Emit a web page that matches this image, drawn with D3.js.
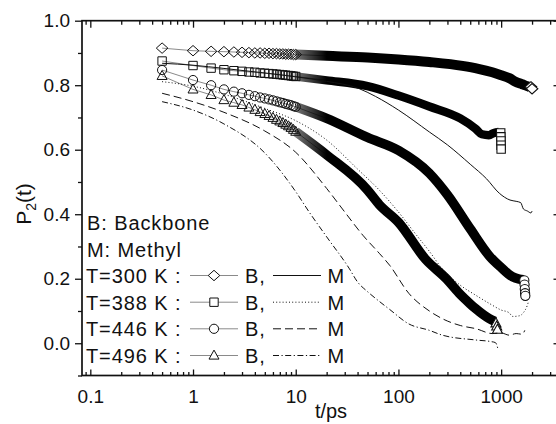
<!DOCTYPE html>
<html><head><meta charset="utf-8">
<script src="https://cdn.jsdelivr.net/npm/d3@7"></script>
<style>
body{margin:0;background:#fff;}
svg text{font-family:"Liberation Sans",Arial,Helvetica,sans-serif;fill:#111;}
</style></head><body>
<svg id="chart" width="556" height="424"></svg>
<script>
// Times (ps) at which backbone markers are individually resolved
const markerTimes = [0.5,1,1.5,2,2.5,3,3.5,4,4.5,5,5.5,6,6.5,7,7.5,8,8.5,9,9.5,10];
// Backbone P2(t) at markerTimes
const backbone300 = [0.915,0.907,0.905,0.904,0.903,0.902,0.901,0.900,0.900,0.899,0.899,0.898,0.898,0.897,0.897,0.896,0.896,0.896,0.895,0.895];
const backbone388 = [0.875,0.861,0.853,0.848,0.845,0.843,0.841,0.840,0.838,0.837,0.836,0.835,0.834,0.833,0.832,0.831,0.830,0.829,0.828,0.827];
const backbone446 = [0.847,0.816,0.800,0.787,0.780,0.775,0.770,0.766,0.762,0.759,0.756,0.753,0.750,0.747,0.745,0.742,0.740,0.738,0.735,0.733];
const backbone496 = [0.829,0.787,0.770,0.754,0.746,0.739,0.731,0.724,0.717,0.711,0.705,0.699,0.693,0.688,0.683,0.678,0.673,0.668,0.662,0.656];
// Backbone P2(t) beyond 10 ps, where the dense markers merge into a band [t, P2]
const tail300 = [[10,0.895],[20,0.891],[50,0.886],[100,0.880],[200,0.872],[420,0.860],[600,0.851],[820,0.840],[1000,0.831],[1200,0.822],[1380,0.811],[1600,0.803],[1800,0.797],[1900,0.794]];
const tail388 = [[10,0.827],[20,0.815],[50,0.797],[100,0.768],[200,0.734],[400,0.697],[560,0.666],[650,0.648],[760,0.645],[850,0.652],[950,0.655]];
const tail446 = [[10,0.733],[20,0.697],[50,0.638],[100,0.598],[200,0.527],[300,0.460],[500,0.355],[780,0.268],[1000,0.235],[1290,0.206],[1500,0.199],[1650,0.197]];
const tail496 = [[10,0.656],[20,0.584],[50,0.475],[65,0.430],[100,0.375],[184,0.260],[293,0.200],[390,0.155],[500,0.122],[565,0.107],[760,0.077],[870,0.068]];
// Last backbone points of each run [t, P2]
const end300 = [[1950,0.795],[2000,0.789]];
const end388 = [[990,0.652],[993,0.640],[996,0.627],[998,0.614],[1000,0.602]];
const end446 = [[1680,0.195],[1690,0.182],[1700,0.168],[1710,0.155],[1720,0.147]];
const end496 = [[890,0.062],[905,0.052],[920,0.042]];
// Methyl P2(t) [t, P2]
const methyl300 = [[0.5,0.868],[1,0.862],[2,0.852],[5,0.838],[10,0.826],[20,0.812],[41,0.790],[60,0.765],[100,0.723],[200,0.655],[300,0.615],[500,0.555],[720,0.510],[960,0.465],[1220,0.444],[1400,0.440],[1550,0.436],[1650,0.416],[1800,0.410],[1950,0.404],[2000,0.410]];
const methyl388 = [[0.5,0.811],[1,0.797],[2,0.772],[5,0.728],[10,0.690],[20,0.630],[40,0.540],[65,0.475],[100,0.407],[150,0.335],[200,0.285],[268,0.230],[400,0.180],[565,0.149],[800,0.120],[1000,0.103],[1190,0.095],[1300,0.083],[1500,0.085],[1650,0.095],[1800,0.118],[1850,0.130]];
const methyl446 = [[0.5,0.775],[1,0.749],[2,0.716],[5,0.658],[10,0.592],[20,0.480],[30,0.407],[45,0.335],[65,0.279],[82,0.242],[126,0.155],[200,0.100],[268,0.076],[400,0.055],[570,0.045],[820,0.030],[1000,0.032],[1200,0.025],[1400,0.030],[1600,0.028],[1700,0.040]];
const methyl496 = [[0.5,0.749],[1,0.723],[2,0.680],[5,0.590],[10,0.470],[13.5,0.407],[20,0.330],[33,0.233],[40,0.190],[50,0.160],[65,0.130],[82,0.105],[126,0.060],[200,0.040],[268,0.025],[570,0.010],[800,0.005],[880,0.002],[930,-0.017]];
// Axis ticks
const xMajor = [0.1,1,10,100,1000];
const xMinor = [0.09,0.2,0.3,0.4,0.5,0.6,0.7,0.8,0.9,2,3,4,5,6,7,8,9,20,30,40,50,60,70,80,90,200,300,400,500,600,700,800,900,2000,3000];
const yMajor = [0.0,0.2,0.4,0.6,0.8,1.0];
const yMinor = [-0.1,0.1,0.3,0.5,0.7,0.9];
// Legend rows
const temps = ["T=300 K :","T=388 K :","T=446 K :","T=496 K :"];

const svg = d3.select("#chart");
const L = 82, R = 559.5, T = 20.7, B = 375.5;
const x = d3.scaleLog().domain([0.083, 3700]).range([L, R]);
const y = d3.scaleLinear().domain([-0.1, 1.0]).range([B, T]);

// marker shapes
const shapes = {
  diamond: "M0,-5.2L5.8,0L0,5.2L-5.8,0Z",
  square: "M-4.2,-4.2h8.4v8.4h-8.4Z",
  circle: "M4.6,0A4.6,4.6 0 1,1 -4.6,0A4.6,4.6 0 1,1 4.6,0Z",
  triangle: "M0,-5.4L5,3.6L-5,3.6Z"
};

const series = [
  {pts: backbone300, tail: tail300, end: end300, methyl: methyl300, shape: "diamond", band: 10, dash: null},
  {pts: backbone388, tail: tail388, end: end388, methyl: methyl388, shape: "square", band: 8.5, dash: "1,2.2"},
  {pts: backbone446, tail: tail446, end: end446, methyl: methyl446, shape: "circle", band: 9.5, dash: "8,4"},
  {pts: backbone496, tail: tail496, end: end496, methyl: methyl496, shape: "triangle", band: 9.5, dash: "6,2.5,1.2,2.5"}
];

// band fades in where the markers start to overlap
const defs = svg.append("defs");
const grad = defs.append("linearGradient").attr("id","fade")
  .attr("gradientUnits","userSpaceOnUse")
  .attr("x1", x(6)).attr("x2", x(20)).attr("y1",0).attr("y2",0);
grad.append("stop").attr("offset",0).attr("stop-color","#000").attr("stop-opacity",0);
grad.append("stop").attr("offset",0.5).attr("stop-color","#000").attr("stop-opacity",0.6);
grad.append("stop").attr("offset",1).attr("stop-color","#000").attr("stop-opacity",1);

defs.append("clipPath").attr("id","plot").append("rect")
  .attr("x",L).attr("y",T).attr("width",R-L).attr("height",B-T);

const straight = d3.line().x(d => x(d[0])).y(d => y(d[1]));
const smooth = d3.line().x(d => x(d[0])).y(d => y(d[1])).curve(d3.curveMonotoneX);
const plot = svg.append("g").attr("clip-path","url(#plot)");

series.forEach(s => {
  const early = markerTimes.map((t,i) => [t, s.pts[i]]);
  const all = early.concat(s.tail.slice(1), s.end);
  // connecting line of the backbone points
  plot.append("path").attr("d", straight(all))
    .attr("fill","none").attr("stroke","#8a8a8a").attr("stroke-width",1);
  // merged marker band
  plot.append("path").attr("d", smooth(s.tail))
    .attr("fill","none").attr("stroke","url(#fade)").attr("stroke-width",s.band)
    .attr("stroke-linejoin","round");
  // resolved markers
  plot.selectAll(null).data(early).join("path")
    .attr("d", shapes[s.shape])
    .attr("transform", d => `translate(${x(d[0])},${y(d[1])})`)
    .attr("fill","none").attr("stroke","#111").attr("stroke-width",1);
  // final markers
  plot.selectAll(null).data(s.end).join("path")
    .attr("d", shapes[s.shape])
    .attr("transform", d => `translate(${x(d[0])},${y(d[1])})`)
    .attr("fill","#fff").attr("stroke","#111").attr("stroke-width",1.1);
});

series.forEach(s => {
  plot.append("path").attr("d", smooth(s.methyl))
    .attr("fill","none").attr("stroke","#111").attr("stroke-width",1)
    .attr("stroke-dasharray", s.dash);
});

// axes
function axis(gen, pos, vals, size, labels) {
  const a = gen.tickValues(vals).tickSizeInner(size).tickSizeOuter(0);
  if (!labels) a.tickFormat("");
  const g = svg.append("g").attr("transform", pos).call(a);
  g.select(".domain").remove();
  g.selectAll(".tick line").attr("stroke","#111").attr("stroke-width",1.3);
  return g;
}
const fmtX = d => d >= 1 ? d3.format("d")(d) : String(d);
const bx = axis(d3.axisBottom(x), `translate(0,${B})`, xMajor, -6, true);
bx.selectAll("text").attr("y", 14.5).attr("font-size", 19).text(fmtX);
axis(d3.axisBottom(x), `translate(0,${B})`, xMinor, -3.5, false);
axis(d3.axisTop(x), `translate(0,${T})`, xMajor, -7, false);
axis(d3.axisTop(x), `translate(0,${T})`, xMinor, -4, false);
const ly = axis(d3.axisLeft(y), `translate(${L},0)`, yMajor, 7, true);
ly.selectAll("text").attr("x", -12).attr("font-size", 19).text(d3.format(".1f"));
axis(d3.axisLeft(y), `translate(${L},0)`, yMinor, 4, false);
axis(d3.axisRight(y), `translate(${R},0)`, yMajor, -6, false);
axis(d3.axisRight(y), `translate(${R},0)`, yMinor, -3.5, false);
svg.selectAll(".tick text").attr("fill","#111").style("font-family",'"Liberation Sans",Arial,sans-serif');

// frame
svg.append("rect").attr("x",L).attr("y",T).attr("width",R-L).attr("height",B-T)
  .attr("fill","none").attr("stroke","#111").attr("stroke-width",1.7);

// axis titles
svg.append("text").attr("x",331).attr("y",417.5).attr("text-anchor","middle")
  .attr("font-size",20).text("t/ps");
const yt = svg.append("text").attr("transform","translate(31,204) rotate(-90)")
  .attr("text-anchor","middle").attr("font-size",21);
yt.append("tspan").text("P");
yt.append("tspan").attr("font-size",14).attr("dy",5).text("2");
yt.append("tspan").attr("dy",-5).text("(t)");

// legend
const leg = svg.append("g").attr("font-size",20).attr("letter-spacing",0.9);
leg.append("text").attr("x",87).attr("y",229.5).text("B: Backbone");
leg.append("text").attr("x",87).attr("y",256.5).text("M: Methyl");
const rowY = [283, 309.7, 336.3, 363];
series.forEach((s,i) => {
  const by = rowY[i], cy = by - 7.5;
  leg.append("text").attr("x",86).attr("y",by).text(temps[i]);
  leg.append("line").attr("x1",190).attr("x2",238).attr("y1",cy).attr("y2",cy)
    .attr("stroke","#8a8a8a").attr("stroke-width",1);
  leg.append("path").attr("d",shapes[s.shape]).attr("transform",`translate(214,${cy})`)
    .attr("fill","#fff").attr("stroke","#111").attr("stroke-width",1);
  leg.append("text").attr("x",245).attr("y",by).text("B,");
  leg.append("line").attr("x1",273).attr("x2",321).attr("y1",cy).attr("y2",cy)
    .attr("stroke","#111").attr("stroke-width",1).attr("stroke-dasharray",s.dash);
  leg.append("text").attr("x",327.5).attr("y",by).text("M");
});
</script>
</body></html>
